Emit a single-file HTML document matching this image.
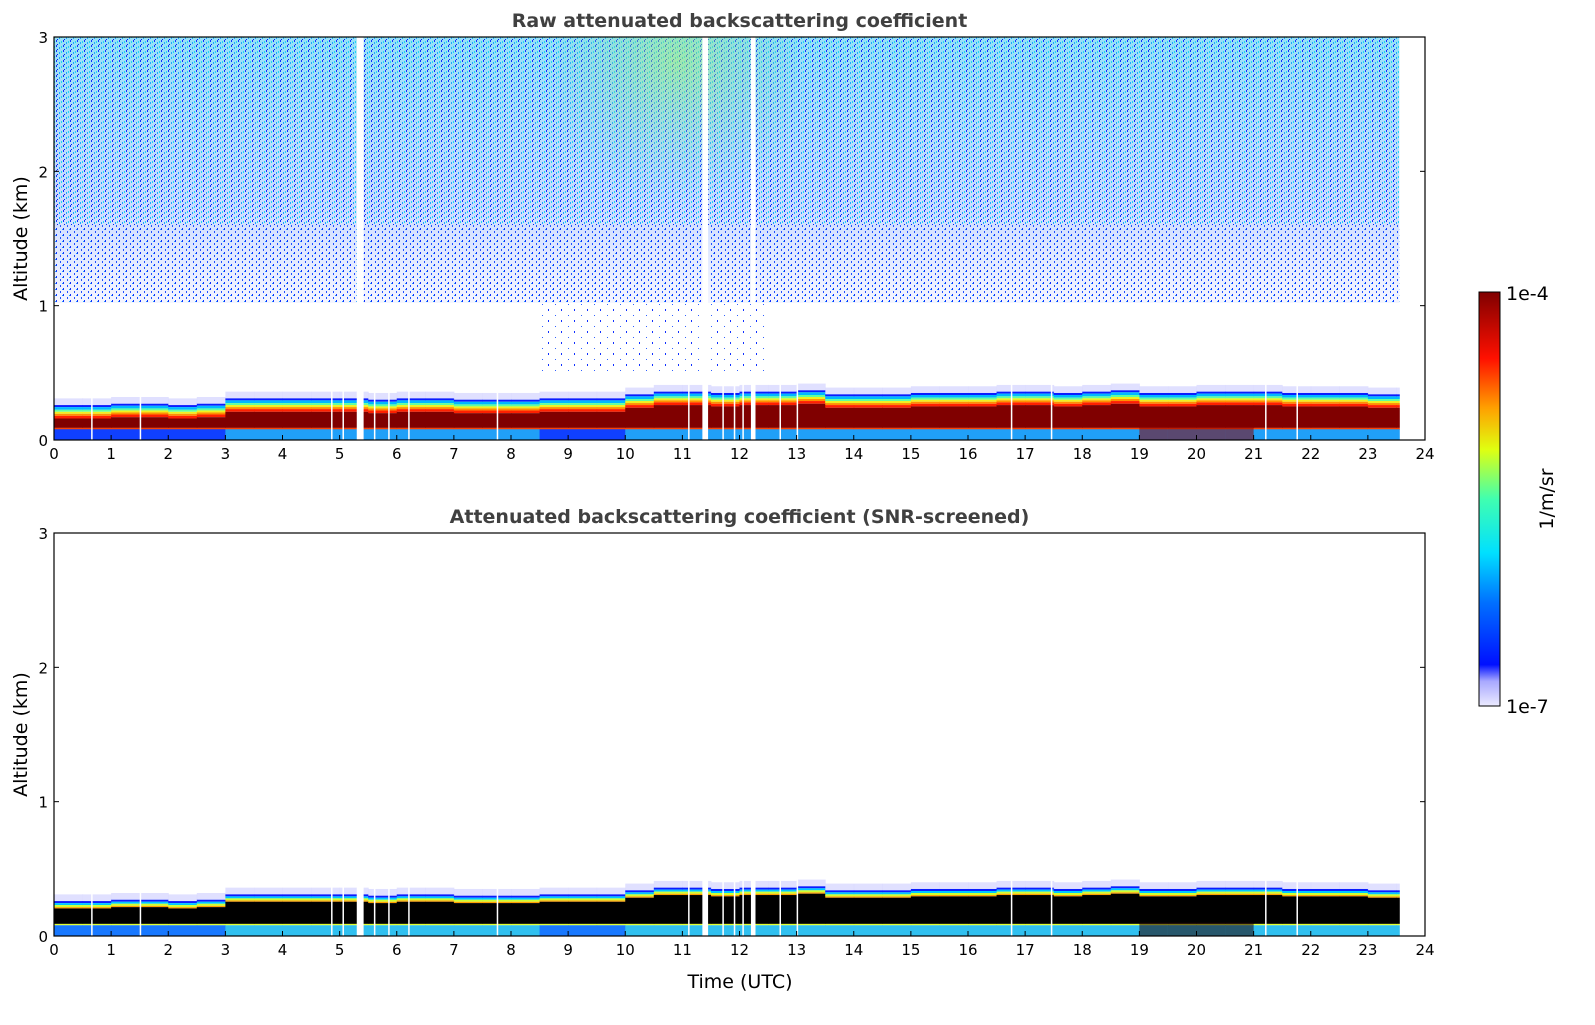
<!DOCTYPE html>
<html><head><meta charset="utf-8"><style>
body{margin:0;background:#fff;font-family:"Liberation Sans","DejaVu Sans",sans-serif}
svg text{font-family:"DejaVu Sans","Liberation Sans",sans-serif}
</style></head><body>
<svg id="s" width="1595" height="1020" xmlns="http://www.w3.org/2000/svg">
<defs>
<pattern id="dots" width="7" height="5" patternUnits="userSpaceOnUse">
<rect x="0" y="0" width="1" height="2" fill="#1030ff"/>
<rect x="3" y="2" width="1" height="2" fill="#1ea8ff"/>
<rect x="5" y="1" width="1" height="2" fill="#20d8f0"/>
<rect x="1" y="4" width="1" height="1" fill="#0020f0"/>
</pattern>
<pattern id="dotsmid" width="7" height="6" patternUnits="userSpaceOnUse">
<rect x="0" y="0" width="1" height="2" fill="#1030ff"/>
<rect x="4" y="3" width="1" height="2" fill="#2050ff"/>
<rect x="6" y="1" width="1" height="1" fill="#20a0ff"/>
</pattern>
<pattern id="dots2" width="13" height="11" patternUnits="userSpaceOnUse">
<rect x="2" y="1" width="1" height="2" fill="#1030ff"/>
<rect x="9" y="7" width="1" height="1" fill="#3060ff"/>
</pattern>
<linearGradient id="noiseg" x1="0" y1="1" x2="0" y2="0">
<stop offset="0" stop-color="#d8dcff" stop-opacity="0.3"/>
<stop offset="0.35" stop-color="#80a8ff" stop-opacity="0.4"/>
<stop offset="1" stop-color="#40c8f0" stop-opacity="0.55"/>
</linearGradient>
<radialGradient id="greenblob" cx="0.5" cy="0.1" r="0.6">
<stop offset="0" stop-color="#a0f070" stop-opacity="0.55"/>
<stop offset="1" stop-color="#60d0e0" stop-opacity="0"/>
</radialGradient>
<linearGradient id="jet" x1="0" y1="1" x2="0" y2="0">
<stop offset="0" stop-color="#ecebff"/>
<stop offset="0.06" stop-color="#a8a8ff"/>
<stop offset="0.1" stop-color="#0010ff"/>
<stop offset="0.25" stop-color="#0070ff"/>
<stop offset="0.37" stop-color="#00e0ff"/>
<stop offset="0.5" stop-color="#40ffb0"/>
<stop offset="0.62" stop-color="#e0ff10"/>
<stop offset="0.72" stop-color="#ffa000"/>
<stop offset="0.84" stop-color="#ff1000"/>
<stop offset="1" stop-color="#800000"/>
</linearGradient>
</defs>
<g id="p1"></g>
<g id="p2"></g>
<g>
<rect x="1479" y="292" width="21" height="414" fill="url(#jet)" stroke="#000" stroke-width="1"/>
<text x="1506" y="300" font-size="19">1e-4</text>
<text x="1506" y="713" font-size="19">1e-7</text>
<text transform="translate(1553,499) rotate(-90)" text-anchor="middle" font-size="19">1/m/sr</text>
</g>
</svg>
<script>
const hours=[0,0.5,1,1.5,2,2.5,3,3.5,4,4.5,5,5.5,6,6.5,7,7.5,8,8.5,9,9.5,10,10.5,11,11.5,12,12.5,13,13.5,14,14.5,15,15.5,16,16.5,17,17.5,18,18.5,19,19.5,20,20.5,21,21.5,22,22.5,23,23.5];
const layerTop=[0.26,0.26,0.27,0.27,0.26,0.27,0.31,0.31,0.31,0.31,0.31,0.30,0.31,0.31,0.30,0.30,0.30,0.31,0.31,0.31,0.34,0.36,0.36,0.35,0.36,0.36,0.37,0.34,0.34,0.34,0.35,0.35,0.35,0.36,0.36,0.35,0.36,0.37,0.35,0.35,0.36,0.36,0.36,0.35,0.35,0.35,0.34,0.34];
const gaps=[[5.3,5.42],[11.35,11.45],[12.2,12.28]];
const thinGaps=[0.65,1.5,4.85,5.05,5.6,5.85,6.2,7.75,11.1,11.7,11.9,12.05,12.7,13.0,16.75,17.45,21.2,21.75];
const xTicks=[0,1,2,3,4,5,6,7,8,9,10,11,12,13,14,15,16,17,18,19,20,21,22,23,24];
const yTicks=[0,1,2,3];
const NS="http://www.w3.org/2000/svg";
const X0=54,X1=1425,tEnd=23.55;
function xs(t){return X0+(X1-X0)*t/24;}
function mk(p,tag,a){const e=document.createElementNS(NS,tag);for(const k in a)e.setAttribute(k,a[k]);p.appendChild(e);return e;}
function panel(g,top,title,raw){
  const bot=top+403;
  const ys=v=>bot-(bot-top)*v/3;
  const W=xs(tEnd)-X0;
  if(raw){
    const n=mk(g,'rect',{x:X0,y:ys(3),width:W,height:ys(1.02)-ys(3),fill:'url(#noiseg)'});
    
    mk(g,'rect',{x:X0,y:ys(3),width:W,height:ys(1.6)-ys(3),fill:'url(#dots)'});
    mk(g,'rect',{x:X0,y:ys(1.6),width:W,height:ys(1.02)-ys(1.6),fill:'url(#dotsmid)'});
    mk(g,'rect',{x:xs(8.8),y:ys(3),width:xs(13)-xs(8.8),height:ys(1.2)-ys(3),fill:'url(#greenblob)'});
    mk(g,'rect',{x:xs(8.5),y:ys(1.02),width:xs(12.5)-xs(8.5),height:ys(0.5)-ys(1.02),fill:'url(#dots2)'});
  }
  for(let i=0;i<hours.length;i++){
    const t0=hours[i],t1=Math.min(hours[i]+0.5,tEnd),T=layerTop[i];
    const x=xs(t0),w=xs(t1)-x+0.5;
    const col=mk(g,'g',{});
    
    const band=(a,b,c,op)=>mk(col,'rect',{x:x,y:ys(b),width:w,height:ys(a)-ys(b),fill:c,opacity:op||1});
    band(T,T+0.05,'#d8d8ff',0.8);
    if(raw){
      band(T-0.015,T,'#0a1cff');
      band(T-0.035,T-0.015,'#00b8ff');
      band(T-0.05,T-0.035,'#60ffa0');
      band(T-0.065,T-0.05,'#f0f020');
      band(T-0.08,T-0.065,'#ff9000');
      band(T-0.1,T-0.08,'#ff2000');
      band(0.09,T-0.1,'#800000');
      band(0.075,0.09,'#ff4000');
    }else{
      band(T-0.015,T,'#0a1cff');
      band(T-0.03,T-0.015,'#00c8ff');
      band(T-0.045,T-0.03,'#d0ff30');
      band(T-0.055,T-0.045,'#ffa000');
      band(0.09,T-0.055,'#000');
      band(0.08,0.09,'#e0ff30');
    }
    const blueish=(t0<3||(t0>=8.5&&t0<10));
    const lowC=raw?(blueish?'#1040ff':'#20a0f8'):(blueish?'#1878ff':'#30c0f0');
    band(0,0.08,lowC);
    if(t0>=19&&t0<21){band(0,0.1,raw?'#8a0000':'#200000',0.55);}
  }
  for(const [a,b] of gaps) mk(g,'rect',{x:xs(a),y:top,width:xs(b)-xs(a),height:bot-top,fill:'#fff'});
  for(const t of thinGaps) mk(g,'rect',{x:xs(t),y:ys(0.45),width:1.5,height:ys(0)-ys(0.45),fill:'#fff'});
  const f=mk(g,'rect',{x:X0,y:top,width:X1-X0,height:bot-top,fill:'none',stroke:'#000','stroke-width':1.2});
  
  for(const t of xTicks){
    mk(g,'line',{x1:xs(t),x2:xs(t),y1:bot,y2:bot-5,stroke:'#000'});
    const l=mk(g,'text',{x:xs(t),y:bot+19,'text-anchor':'middle','font-size':15});l.textContent=t;
    
  }
  for(const v of yTicks){
    mk(g,'line',{x1:X0,x2:X0+5,y1:ys(v),y2:ys(v),stroke:'#000'});
    mk(g,'line',{x1:X1,x2:X1-5,y1:ys(v),y2:ys(v),stroke:'#000'});
    const l=mk(g,'text',{x:X0-6,y:ys(v)+6,'text-anchor':'end','font-size':15});l.textContent=v;
    
  }
  const yl=mk(g,'text',{transform:`translate(27,${(top+bot)/2}) rotate(-90)`,'text-anchor':'middle','font-size':19});yl.textContent='Altitude (km)';
  
  const tt=mk(g,'text',{x:(X0+X1)/2,y:top-10,'text-anchor':'middle','font-size':19,'font-weight':'bold',fill:'#404040'});tt.textContent=title;
  
}
panel(document.getElementById('p1'),37,'Raw attenuated backscattering coefficient',true);
panel(document.getElementById('p2'),533,'Attenuated backscattering coefficient (SNR-screened)',false);
const xl=mk(document.getElementById('p2'),'text',{x:740,y:988,'text-anchor':'middle','font-size':19});xl.textContent='Time (UTC)';


</script>
</body></html>
